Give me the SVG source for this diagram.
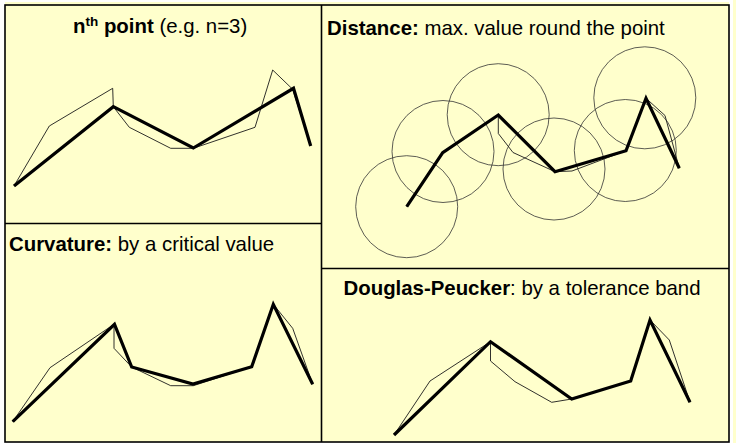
<svg xmlns="http://www.w3.org/2000/svg" width="736" height="448" viewBox="0 0 736 448">
  <style>
    .title { font-family: "Liberation Sans", Arial, sans-serif; font-size: 20.4px; fill: #000; }
    .b { font-weight: bold; }
    .thin { fill: none; stroke: #1a1a1a; stroke-width: 0.9; stroke-linejoin: miter; }
    .thick { fill: none; stroke: #000; stroke-width: 3.2; stroke-linejoin: miter; stroke-miterlimit: 10; }
    .circ { fill: none; stroke: #333; stroke-width: 0.8; }
    .frame { fill: none; stroke: #000; stroke-width: 1.6; }
  </style>
  <rect x="0" y="0" width="736" height="448" fill="#ffffff"/>
  <rect x="5" y="2" width="724" height="440" fill="#ffffcc"/>
  <rect x="733" y="0" width="3" height="443" fill="#ffffcc"/>

  <g id="frame">
    <rect class="frame" x="5" y="5" width="724" height="437"/>
    <line class="frame" x1="321.5" y1="5" x2="321.5" y2="442"/>
    <line class="frame" x1="5" y1="223.5" x2="321.5" y2="223.5"/>
    <line class="frame" x1="321.5" y1="268.5" x2="729" y2="268.5"/>
  </g>

  <g id="nth-point">
    <text class="title" x="73" y="32.5"><tspan class="b">n</tspan><tspan class="b" font-size="13.5" dy="-7">th</tspan><tspan class="b" dy="7"> point</tspan> (e.g. n=3)</text>
    <polyline class="thin" points="14,186 49.3,126 112.7,88.3 113.3,106.7 129.3,127.3 170.7,148.3 193.3,148.3 255,127.3 272.7,70 292.7,89.3 310.7,146"/>
    <polyline class="thick" points="14,186 113.3,106.7 193.3,148 293.5,88.3 310.7,146"/>
  </g>

  <g id="distance">
    <text class="title" x="327" y="34.5"><tspan class="b">Distance:</tspan> max. value round the point</text>
    <circle class="circ" cx="406.7" cy="206.7" r="51"/>
    <circle class="circ" cx="443" cy="151.5" r="51"/>
    <circle class="circ" cx="498.2" cy="114.7" r="51"/>
    <circle class="circ" cx="554" cy="169" r="51"/>
    <circle class="circ" cx="625.3" cy="150.5" r="51"/>
    <circle class="circ" cx="644.8" cy="97.8" r="51"/>
    <polyline class="thin" points="406.7,206.7 442.7,152.7 498.3,115 498.3,133.5 513,152.5 555,171.7 572,171 626,150.7 646,98.3 665,115.5 679.3,168.3"/>
    <polyline class="thick" points="406.7,206.7 442.7,152.7 498.3,115 555,171.7 626,150.7 646,98.3 679.3,168.3"/>
  </g>

  <g id="curvature">
    <text class="title" x="9" y="250.7"><tspan class="b">Curvature:</tspan> by a critical value</text>
    <polyline class="thin" points="12.7,421.7 50,367.7 114,324.3 114,348.3 131.7,367 170.7,385.7 193.3,385.7 251.7,366.7 273.3,304.3 292.7,328.3 312.7,384.3"/>
    <polyline class="thick" points="12.7,421.7 114.5,324.3 131.7,367 193,384 251.7,366.7 273.3,304.3 312.7,384.3"/>
  </g>

  <g id="douglas-peucker">
    <text class="title" x="343.5" y="295"><tspan class="b">Douglas-Peucker</tspan>: by a tolerance band</text>
    <polyline class="thin" points="394,435 430,381 490.5,341.7 490.5,361 515,381.7 551.7,402.3 571.7,399 630.7,381 650,320 669.3,340 690,402.3"/>
    <polyline class="thick" points="394,435 490.5,341.7 571.7,399 630.7,381 650,320 690,402.3"/>
  </g>
</svg>
